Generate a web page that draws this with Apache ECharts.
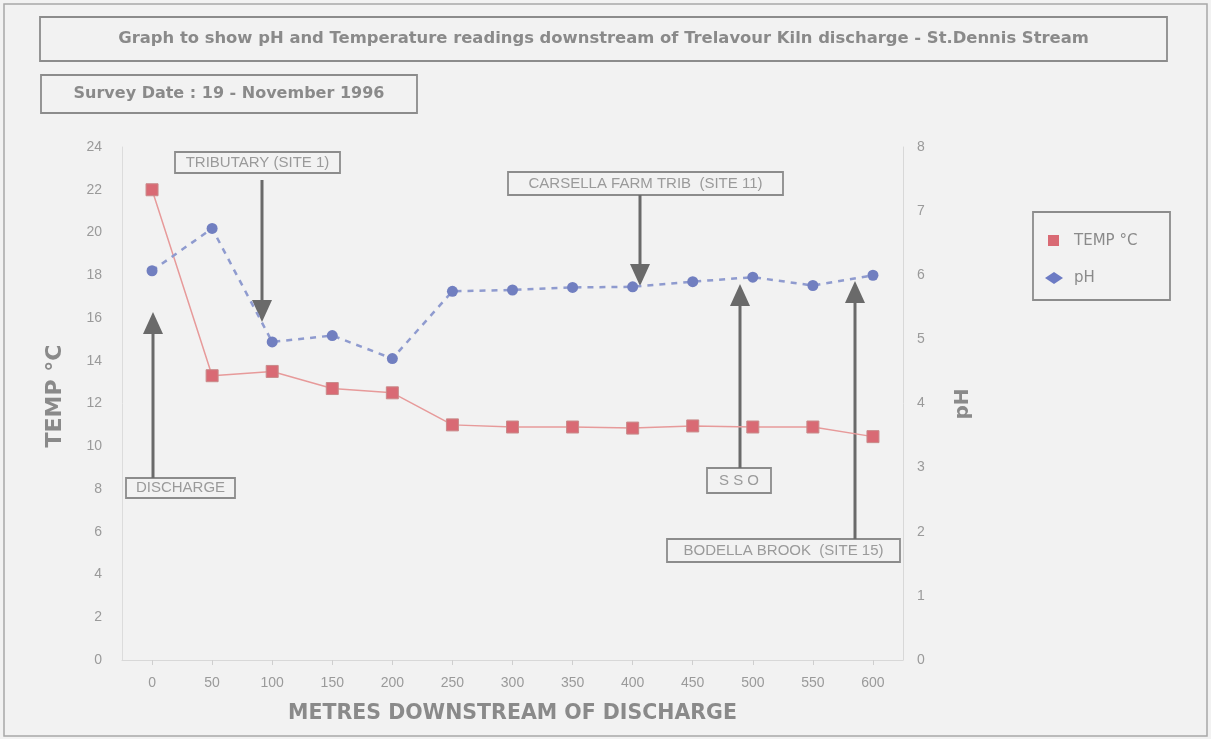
<!DOCTYPE html>
<html><head><meta charset="utf-8">
<script src="https://cdn.jsdelivr.net/npm/echarts@6/dist/echarts.min.js"></script>
<style>html,body{margin:0;padding:0;background:#f2f2f2}#c{width:1211px;height:739px}</style>
</head><body><div id="c"></div>
<script>
const distances = ['0','50','100','150','200','250','300','350','400','450','500','550','600'];
const tempC = [22, 13.3, 13.5, 12.7, 12.5, 11.0, 10.9, 10.9, 10.85, 10.95, 10.9, 10.9, 10.45];
const pH = [6.07, 6.73, 4.96, 5.06, 4.7, 5.75, 5.77, 5.81, 5.82, 5.9, 5.97, 5.84, 6.0];
const titleText = 'Graph to show pH and Temperature readings downstream of Trelavour Kiln discharge - St.Dennis Stream';
const subtitleText = 'Survey Date : 19 - November 1996';
const xAxisTitle = 'METRES DOWNSTREAM OF DISCHARGE';
const yAxisTitle = 'TEMP °C';
const y2AxisTitle = 'pH';

const FONT = '"Liberation Sans", Arial, sans-serif';
const WIDE = '"DejaVu Sans", Verdana, sans-serif';
const GRAY = '#8a8a8a';
const ARROW = '#6a6a6a';

function box(x, y, w, h, text, font, color) {
  return {
    type: 'group', children: [
      {type: 'rect', shape: {x: x, y: y, width: w, height: h}, style: {fill: 'rgba(0,0,0,0)', stroke: '#8c8c8c', lineWidth: 1.8}},
      {type: 'text', x: x + w / 2, y: y + h / 2, style: {text: text, fill: color || GRAY, font: font, align: 'center', verticalAlign: 'middle'}}
    ]
  };
}
function arrow(x, y1, y2) {
  const dir = y2 > y1 ? 1 : -1;
  const headLen = 22, headW = 10;
  const baseY = y2 - dir * headLen;
  return {
    type: 'group', children: [
      {type: 'line', shape: {x1: x, y1: y1, x2: x, y2: baseY}, style: {stroke: ARROW, lineWidth: 3}},
      {type: 'polygon', shape: {points: [[x - headW, baseY], [x + headW, baseY], [x, y2]]}, style: {fill: ARROW}}
    ]
  };
}
const annoFont = '15px ' + FONT;

const chart = echarts.init(document.getElementById('c'));
chart.setOption({
  backgroundColor: '#f2f2f2',
  animation: false,
  grid: {left: 122, right: 308, top: 147, bottom: 79},
  xAxis: {
    type: 'category', data: distances, boundaryGap: true,
    name: xAxisTitle, nameLocation: 'middle', nameGap: 43,
    nameTextStyle: {color: GRAY, fontSize: 20.5, fontWeight: 'bold', fontFamily: WIDE},
    axisLine: {lineStyle: {color: '#d8d8d8'}},
    axisTick: {show: true, alignWithLabel: true, lineStyle: {color: '#cfcfcf'}},
    axisLabel: {color: '#9a9a9a', fontSize: 14, fontFamily: FONT, margin: 16}
  },
  yAxis: [
    {
      type: 'value', min: 0, max: 24, interval: 2,
      axisLine: {show: true, lineStyle: {color: '#dcdcdc'}},
      axisTick: {show: false},
      splitLine: {show: false},
      axisLabel: {color: '#9a9a9a', fontSize: 14, fontFamily: FONT, margin: 20}
    },
    {
      type: 'value', min: 0, max: 8, interval: 1,
      axisLine: {show: true, lineStyle: {color: '#d8d8d8'}},
      axisTick: {show: false},
      splitLine: {show: false},
      axisLabel: {color: '#9a9a9a', fontSize: 14, fontFamily: FONT, margin: 14}
    }
  ],
  legend: {show: false},
  series: [
    {
      name: 'TEMP °C', type: 'line', yAxisIndex: 0, data: tempC,
      symbol: 'rect', symbolSize: 12,
      itemStyle: {color: '#d96a74', borderColor: '#c98a8a', borderWidth: 1},
      lineStyle: {color: '#e79a9a', width: 1.5}
    },
    {
      name: 'pH', type: 'line', yAxisIndex: 1, data: pH,
      symbol: 'circle', symbolSize: 11,
      itemStyle: {color: '#717fc0'},
      lineStyle: {color: '#8f9bcf', width: 2.5, type: [6, 6]}
    }
  ],
  graphic: [
    {type: 'rect', shape: {x: 4, y: 4, width: 1203, height: 732}, style: {fill: 'rgba(0,0,0,0)', stroke: '#a8a8a8', lineWidth: 1.5}, z: 0},
    box(40, 17, 1127, 44, titleText, 'bold 16.4px ' + WIDE),
    box(41, 75, 376, 38, subtitleText, 'bold 16px ' + WIDE),
    {type: 'text', x: 55, y: 396, rotation: Math.PI / 2, style: {text: yAxisTitle, fill: GRAY, font: 'bold 22px ' + WIDE, align: 'center', verticalAlign: 'middle'}},
    {type: 'text', x: 963, y: 404, rotation: Math.PI / 2, style: {text: y2AxisTitle, fill: GRAY, font: 'bold 20px ' + WIDE, align: 'center', verticalAlign: 'middle'}},
    {type: 'group', children: [
      {type: 'rect', shape: {x: 1033, y: 212, width: 137, height: 88}, style: {fill: 'rgba(0,0,0,0)', stroke: '#8c8c8c', lineWidth: 1.8}},
      {type: 'rect', shape: {x: 1048, y: 235, width: 11, height: 11}, style: {fill: '#d96a74'}},
      {type: 'text', x: 1074, y: 241, style: {text: 'TEMP °C', fill: GRAY, font: '15px ' + WIDE, verticalAlign: 'middle'}},
      {type: 'polygon', shape: {points: [[1045, 278], [1054, 272], [1063, 278], [1054, 284]]}, style: {fill: '#6c7bc4'}},
      {type: 'text', x: 1074, y: 278, style: {text: 'pH', fill: GRAY, font: '15px ' + WIDE, verticalAlign: 'middle'}}
    ]},
    box(175, 152, 165, 21, 'TRIBUTARY (SITE 1)', annoFont, '#9a9a9a'),
    arrow(262, 180, 322),
    box(126, 478, 109, 20, 'DISCHARGE', annoFont, '#9a9a9a'),
    arrow(153, 478, 312),
    box(508, 172, 275, 23, 'CARSELLA FARM TRIB  (SITE 11)', annoFont, '#9a9a9a'),
    arrow(640, 195, 286),
    box(707, 468, 64, 25, 'S S O', annoFont, '#9a9a9a'),
    arrow(740, 468, 284),
    box(667, 539, 233, 23, 'BODELLA BROOK  (SITE 15)', annoFont, '#9a9a9a'),
    arrow(855, 539, 281)
  ]
});
</script>
</body></html>
